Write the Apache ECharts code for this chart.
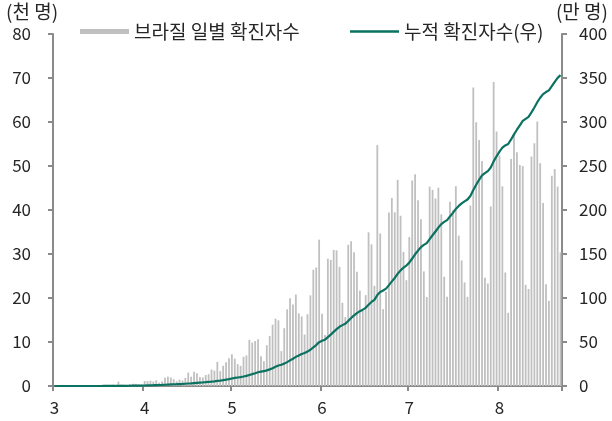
<!DOCTYPE html>
<html>
<head>
<meta charset="utf-8">
<script src="https://cdn.jsdelivr.net/npm/echarts@6/dist/echarts.min.js"></script>
<style>
  html, body { margin: 0; padding: 0; background: #ffffff; }
  #chart { width: 612px; height: 421px; }
</style>
</head>
<body>
<div id="chart"></div>
<script>
// Months on the axis and the number of days shown in each (Mar 1 – Aug 22)
const monthNumbers = [3, 4, 5, 6, 7, 8];
const daysShown = [31, 30, 31, 30, 31, 22];

// Brazil daily new confirmed cases, thousands of people
const dailyMar = [0, 0, 0, 0, 0, 0.01, 0.01, 0.01, 0.01, 0, 0.01, 0.02, 0.03, 0.02, 0.02, 0.08,
  0.03, 0.06, 0.14, 0.19, 0.28, 0.22, 1.0, 0.35, 0.31, 0.23, 0.48, 0.50, 0.49, 0.35, 0.32];
const dailyApr = [1.14, 1.12, 1.21, 1.01, 1.30, 0.77, 1.03, 1.87, 2.14, 1.92,
  1.55, 1.09, 1.44, 1.26, 1.83, 3.06, 2.11, 3.26, 2.92, 2.06,
  1.93, 2.50, 2.68, 3.74, 3.50, 5.51, 3.38, 4.61, 5.39, 6.28];
const dailyMay = [7.22, 6.21, 4.97, 4.59, 6.63, 6.94, 10.50, 9.89, 10.22, 10.61,
  6.76, 5.63, 9.26, 11.39, 13.94, 15.31, 14.92, 7.94, 13.14, 17.41,
  19.95, 18.51, 20.80, 16.51, 15.81, 11.69, 16.32, 20.60, 26.42, 26.93, 33.27];
const dailyJun = [16.41, 11.60, 28.94, 28.63, 30.93, 30.83, 27.08, 18.91, 15.65, 32.09,
  32.91, 30.41, 25.98, 21.70, 17.11, 20.65, 34.92, 32.19, 22.77, 54.77,
  34.67, 17.46, 21.43, 39.44, 42.73, 39.48, 46.86, 38.69, 30.48, 24.05];
const dailyJul = [33.85, 46.71, 48.11, 42.22, 37.92, 26.05, 20.23, 45.31, 44.57, 42.62,
  45.05, 39.02, 24.83, 20.29, 41.86, 39.92, 45.40, 34.18, 28.53, 23.53,
  20.26, 41.01, 67.86, 59.96, 55.89, 51.15, 24.58, 23.28, 40.82, 69.07, 57.84];
const dailyAug = [52.38, 45.39, 25.80, 16.64, 51.60, 57.15, 53.14, 50.23, 49.97, 23.01,
  22.05, 52.16, 55.16, 60.09, 50.64, 41.58, 23.10, 19.37, 47.78, 49.30, 45.32, 30.36];

// Cumulative confirmed cases, ten-thousands of people (right axis)
const totalMar = [0, 0, 0, 0, 0, 0, 0, 0, 0, 0, 0, 0, 0, 0.01, 0.01, 0.02, 0.02, 0.03, 0.04, 0.06,
  0.09, 0.11, 0.15, 0.19, 0.22, 0.24, 0.29, 0.34, 0.39, 0.43, 0.46];
const totalApr = [0.57, 0.68, 0.80, 0.91, 1.04, 1.11, 1.22, 1.40, 1.62, 1.81,
  1.96, 2.07, 2.22, 2.34, 2.53, 2.83, 3.04, 3.37, 3.66, 3.87,
  4.06, 4.31, 4.58, 4.95, 5.30, 5.85, 6.19, 6.65, 7.19, 7.82];
const totalMay = [8.54, 9.16, 9.66, 10.12, 10.78, 11.47, 12.52, 13.51, 14.53, 15.59,
  16.27, 16.83, 17.76, 18.90, 20.29, 21.82, 23.31, 24.11, 25.42, 27.16,
  29.16, 31.01, 33.09, 34.74, 36.32, 37.49, 39.12, 41.18, 43.82, 46.52, 49.84];
const totalJun = [51.48, 52.64, 55.54, 58.40, 61.49, 64.58, 67.28, 69.18, 70.74, 73.95,
  77.24, 80.28, 82.88, 85.05, 86.76, 88.83, 92.32, 95.54, 97.81, 103.29,
  106.76, 108.50, 110.65, 114.59, 118.86, 122.81, 127.50, 131.37, 134.41, 136.82];
const totalJul = [140.20, 144.88, 149.69, 153.91, 157.70, 160.31, 162.33, 166.86, 171.32, 175.58,
  180.08, 183.99, 186.47, 188.50, 192.68, 196.68, 201.22, 204.63, 207.49, 209.84,
  211.87, 215.97, 222.75, 228.75, 234.34, 239.45, 241.91, 244.24, 248.32, 255.23, 261.01];
const totalAug = [266.25, 270.79, 273.37, 275.03, 280.19, 285.91, 291.22, 296.24, 301.24, 303.54,
  305.75, 310.96, 316.48, 322.49, 327.55, 331.71, 334.02, 335.96, 340.74, 345.67, 350.20, 353.23];

// Series / axis text
const dailyName = '브라질 일별 확진자수';
const totalName = '누적 확진자수(우)';
const leftUnit = '(천 명)';
const rightUnit = '(만 명)';

// Day categories such as "3/1", "3/2", ...
const categories = [];
monthNumbers.forEach((m, i) => {
  for (let d = 1; d <= daysShown[i]; d++) categories.push(m + '/' + d);
});
const dailyCases = [].concat(dailyMar, dailyApr, dailyMay, dailyJun, dailyJul, dailyAug);
const totalCases = [].concat(totalMar, totalApr, totalMay, totalJun, totalJul, totalAug);

const isMonthStart = (idx, value) => String(value).endsWith('/1');

const FONT = "'Noto Sans CJK KR', 'Noto Sans', sans-serif";
const TEXT = '#262626';
const AXIS = '#8a8a8a';
const BAR = '#c0c0c0';
const TEAL = '#0b7261';

// Legend row: key block + caption for each series
const legendRow = (x, keyH, color, caption) => ({
  type: 'group', left: x, top: 22,
  children: [
    { type: 'rect', shape: { x: 0, y: 9 - keyH / 2, width: 49, height: keyH }, style: { fill: color } },
    { type: 'text', x: 54, y: 9, style: { text: caption, font: '19px ' + FONT, fill: TEXT, verticalAlign: 'middle' } }
  ]
});

const chart = echarts.init(document.getElementById('chart'), null, { renderer: 'canvas' });
chart.setOption({
  animation: false,
  backgroundColor: '#ffffff',
  textStyle: { fontFamily: FONT, color: TEXT },
  grid: { left: 53, right: 50, top: 34, bottom: 35, containLabel: false },
  graphic: [
    { type: 'text', left: 6, top: 2, style: { text: leftUnit, font: '19px ' + FONT, fill: TEXT } },
    { type: 'text', right: 4, top: 2, style: { text: rightUnit, font: '19px ' + FONT, fill: TEXT } },
    legendRow(80, 5, BAR, dailyName),
    legendRow(350, 2.5, TEAL, totalName)
  ],
  xAxis: {
    type: 'category',
    data: categories,
    boundaryGap: true,
    axisLine: { lineStyle: { color: AXIS, width: 2 } },
    axisTick: { show: true, interval: isMonthStart, length: 5, lineStyle: { color: AXIS, width: 2 } },
    axisLabel: {
      interval: isMonthStart,
      formatter: v => v.split('/')[0],
      fontSize: 17, color: TEXT, margin: 13, fontFamily: FONT
    },
    splitLine: { show: false }
  },
  yAxis: [
    {
      type: 'value', min: 0, max: 80, interval: 10, position: 'left',
      axisLine: { show: true, lineStyle: { color: AXIS, width: 2 } },
      axisTick: { show: true, length: 5, lineStyle: { color: AXIS, width: 2 } },
      axisLabel: { fontSize: 17, color: TEXT, margin: 22, fontFamily: FONT },
      splitLine: { show: false }
    },
    {
      type: 'value', min: 0, max: 400, interval: 50, position: 'right',
      axisLine: { show: true, lineStyle: { color: AXIS, width: 2 } },
      axisTick: { show: true, length: 5, lineStyle: { color: AXIS, width: 2 } },
      axisLabel: { fontSize: 17, color: TEXT, margin: 17, fontFamily: FONT },
      splitLine: { show: false }
    }
  ],
  series: [
    {
      name: dailyName,
      type: 'bar',
      data: dailyCases,
      yAxisIndex: 0,
      barWidth: '62%',
      itemStyle: { color: BAR },
      z: 2
    },
    {
      name: totalName,
      type: 'line',
      data: totalCases,
      yAxisIndex: 1,
      showSymbol: false,
      symbol: 'none',
      lineStyle: { color: TEAL, width: 2.2 },
      itemStyle: { color: TEAL },
      z: 3
    }
  ]
});
</script>
</body>
</html>
